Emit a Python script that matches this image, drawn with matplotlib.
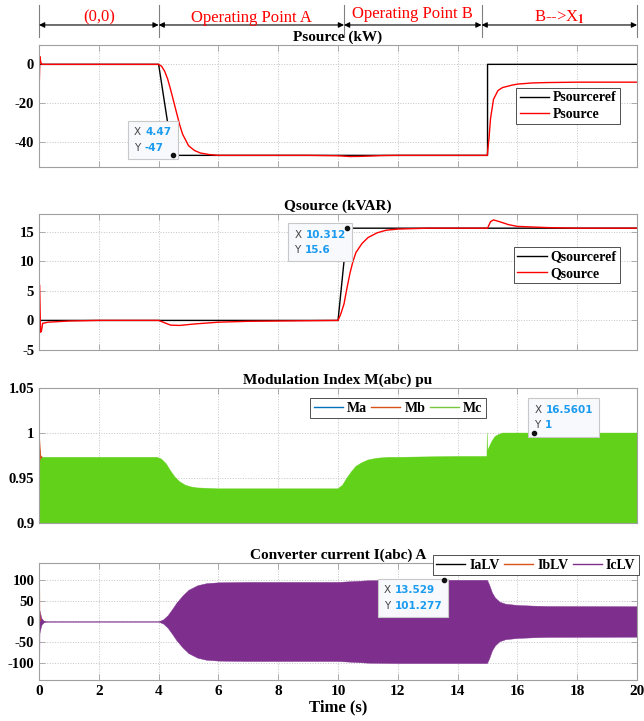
import numpy as np
import matplotlib.pyplot as plt
from matplotlib.lines import Line2D
from matplotlib.offsetbox import TextArea, HPacker, VPacker, AnnotationBbox

plt.rcParams['font.family'] = ['Liberation Serif', 'DejaVu Serif']
plt.rcParams['font.weight'] = 'bold'
plt.rcParams['axes.unicode_minus'] = False
plt.rcParams['mathtext.fontset'] = 'stix'

# --- operating regions (top arrows) ---
region_bounds = [0, 4, 10.2, 14.8, 20]
region_labels = ['(0,0)', 'Operating Point A', 'Operating Point B', 'B-->X$_1$']

# --- Psource (kW) ---
pref_t = [0, 4, 4.47, 15, 15, 20]
pref_v = [0, 0, -47, -47, 0, 0]
p_t = [0, 0.03, 0.06, 0.1, 4.0, 4.1, 4.2, 4.3, 4.4, 4.5, 4.6, 4.7, 4.8, 5.0,
       5.2, 5.4, 5.7, 6.0, 7, 9, 10, 10.4, 10.8, 11.5, 12, 14.99, 15.05, 15.1,
       15.2, 15.35, 15.5, 15.8, 16, 16.5, 17, 18, 20]
p_v = [-15, 4, 1, 0, 0, -1, -3.5, -7.5, -13, -19, -25, -31, -36, -42,
       -44.5, -45.8, -46.6, -47, -47, -47, -47.2, -47.6, -47.5, -47.1, -47, -47, -38, -28,
       -18, -13.5, -12, -10.8, -10.2, -9.6, -9.4, -9.2, -9.2]

# --- Qsource (kVAR) ---
qref_t = [0, 10, 10.312, 20]
qref_v = [0, 0, 15.6, 15.6]
q_t = [0, 0.02, 0.05, 0.08, 0.12, 0.3, 1, 2, 4.0, 4.2, 4.4, 4.7, 5.2, 6, 7,
       10.0, 10.1, 10.2, 10.3, 10.4, 10.5, 10.6, 10.8, 11.0, 11.3, 11.6, 12, 13,
       15.0, 15.1, 15.2, 15.4, 15.7, 16, 17, 18, 20]
q_v = [-3, 6, -2, -1.8, -0.5, -0.3, -0.1, 0, 0, -0.4, -0.8, -0.85, -0.6, -0.3, -0.15,
       0, 1.2, 2.8, 5.5, 8, 10, 11.5, 13, 14, 14.8, 15.25, 15.45, 15.6,
       15.6, 16.7, 17, 16.7, 16.2, 15.9, 15.7, 15.6, 15.6]

# --- Modulation index envelopes (pu) ---
m_t = [0, 0.03, 0.08, 0.15, 1, 2, 3, 3.95, 4.1, 4.25, 4.4, 4.55, 4.7, 4.9, 5.1,
       5.3, 6, 8, 10.0, 10.15, 10.3, 10.45, 10.6, 10.8, 11.0, 11.3, 11.7, 12, 14,
       14.98, 14.99, 15.0, 15.05, 15.15, 15.25, 15.35, 15.5, 16, 18, 20]
mc_env = [1.0, 0.968, 0.972, 0.973, 0.973, 0.973, 0.973, 0.973, 0.971, 0.966, 0.958, 0.951,
          0.946, 0.942, 0.940, 0.939, 0.938, 0.938, 0.938, 0.942, 0.950, 0.957, 0.963, 0.967,
          0.970, 0.972, 0.973, 0.973, 0.974, 0.974, 1.0, 0.98, 0.984, 0.991, 0.996, 0.998,
          1.0, 1.0, 1.0, 1.0]
ma_t = [0, 0.02, 0.05, 0.1]
ma_env = [0.99, 0.98, 0.972, 0.973]
mb_t = [0, 0.02, 0.05, 0.1]
mb_env = [1.0, 0.99, 0.975, 0.973]

# --- Converter current envelopes (A) ---
i_t = [0, 0.03, 0.08, 0.15, 0.25, 4.0, 4.15, 4.3, 4.45, 4.6, 4.8, 5.0, 5.3, 5.6,
       6.0, 7, 10.0, 10.5, 11.0, 12, 14.98, 15.05, 15.15, 15.25, 15.4, 15.6, 16.0,
       16.5, 17, 20]
ic_env = [32, 22, 8, 2, 0.6, 0.6, 5, 15, 30, 46, 63, 77, 88, 93,
          95, 96, 96, 98, 100, 101, 101, 90, 70, 58, 48, 43, 40,
          38.5, 37.5, 37]
ib_t = [0, 0.005, 0.015, 0.04]
ib_v = [0, 145, 20, 0]
ic_spike_t = [0, 0.005, 0.015, 0.04]
ic_spike_v = [0, -145, -20, 0]

# --- data tips ---
tips = [(4.47, -47, '4.47', '-47'), (10.312, 15.6, '10.312', '15.6'),
        (16.5601, 1, '16.5601', '1'), (13.529, 101.277, '13.529', '101.277')]

# ================== FIGURE ==================
fig = plt.figure(figsize=(6.44, 7.21), dpi=100)
rects = [[0.0606, 0.7684, 0.9286, 0.1692],
         [0.0606, 0.5146, 0.9286, 0.1886],
         [0.0606, 0.2746, 0.9286, 0.1872],
         [0.0606, 0.0569, 0.9286, 0.1623]]
axes = [fig.add_axes(r) for r in rects]

leg_kw = dict(fancybox=False, edgecolor='#333333', framealpha=1, fontsize=10,
              handlelength=2.1, handletextpad=0.3, borderpad=0.25, labelspacing=0.25,
              borderaxespad=0)


def style(ax, title):
    ax.set_xlim(0, 20)
    ax.set_xticks(np.arange(0, 21, 2))
    for s in ax.spines.values():
        s.set_color('#a0a0a0')
        s.set_linewidth(0.8)
    ax.tick_params(direction='in', top=True, right=True, color='#a0a0a0',
                   length=4, width=0.6, labelsize=10.5)
    ax.grid(True, linestyle=':', color='#c4c4c4', linewidth=0.7)
    ax.set_axisbelow(True)
    ax.set_title(title, fontsize=11, fontweight='bold', pad=3)


def datatip(ax, x, y, xs, ys, align, offset):
    lab = dict(color='#444444', family='DejaVu Sans', size=7.5, weight='normal')
    val = dict(color='#1a9bf0', family='DejaVu Sans', size=7.5, weight='bold')
    row1 = HPacker(children=[TextArea('X', textprops=lab), TextArea(xs, textprops=val)], sep=3, pad=0)
    row2 = HPacker(children=[TextArea('Y', textprops=lab), TextArea(ys, textprops=val)], sep=3, pad=0)
    box = VPacker(children=[row1, row2], sep=4, pad=0, align='left')
    ab = AnnotationBbox(box, (x, y), xybox=offset, boxcoords='offset points',
                        box_alignment=align, frameon=True, pad=0.45,
                        bboxprops=dict(facecolor='#f7f9fc', edgecolor='#c8c8c8', linewidth=0.8),
                        annotation_clip=False, zorder=10)
    ax.add_artist(ab)
    ax.plot([x], [y], 'o', color='#111111', markersize=3, zorder=11)


# Panel 1 - Psource
ax1 = axes[0]
style(ax1, 'Psource (kW)')
ax1.plot(pref_t, pref_v, color='black', lw=1, label='Psourceref')
ax1.plot(p_t, p_v, color='red', lw=1, label='Psource')
ax1.set_ylim(-53, 10)
ax1.set_yticks([-40, -20, 0])
ax1.set_xticklabels([])
ax1.legend(loc='upper right', bbox_to_anchor=(0.972, 0.648), **leg_kw).get_frame().set_linewidth(0.6)

# region arrows above the first panel
trans = ax1.get_xaxis_transform()
for b in region_bounds:
    ax1.axvline(b, ymin=1.066, ymax=1.33, color='#808080', lw=0.8, clip_on=False)
for k, lab in enumerate(region_labels):
    b0, b1 = region_bounds[k], region_bounds[k + 1]
    ax1.annotate('', xy=(b1, 1.164), xytext=(b0, 1.164), xycoords=trans, textcoords=trans,
                 arrowprops=dict(arrowstyle='<|-|>', color='black', lw=0.8,
                                 mutation_scale=8, shrinkA=0, shrinkB=0),
                 annotation_clip=False)
    ax1.text((b0 + b1) / 2, 1.225 if k != 2 else 1.25, lab, transform=trans, color='red',
             fontsize=12, fontweight='normal', ha='center', va='center')

# Panel 2 - Qsource
ax2 = axes[1]
style(ax2, 'Qsource (kVAR)')
ax2.plot(qref_t, qref_v, color='black', lw=1, label='Qsourceref')
ax2.plot(q_t, q_v, color='red', lw=1, label='Qsource')
ax2.set_ylim(-5, 18)
ax2.set_yticks([-5, 0, 5, 10, 15])
ax2.set_xticklabels([])
ax2.legend(loc='upper right', bbox_to_anchor=(0.972, 0.757), **leg_kw).get_frame().set_linewidth(0.6)

# Panel 3 - modulation index
ax3 = axes[2]
style(ax3, 'Modulation Index M(abc) pu')
ma_env_a = np.array(ma_env)
mb_env_a = np.array(mb_env)
mc_env_a = np.array(mc_env)
ax3.fill_between(ma_t, -ma_env_a, ma_env_a, color='#0072BD', lw=0.8)
ax3.fill_between(mb_t, -mb_env_a, mb_env_a, color='#D95319', lw=0.8)
ax3.fill_between(m_t, -mc_env_a, mc_env_a, color='#62D11A', lw=0.3)
ax3.set_ylim(0.9, 1.05)
ax3.set_yticks([0.9, 0.95, 1.0, 1.05])
ax3.set_yticklabels(['0.9', '0.95', '1', '1.05'])
ax3.set_xticklabels([])
h3 = [Line2D([], [], color='#0072BD', lw=1), Line2D([], [], color='#D95319', lw=1),
      Line2D([], [], color='#77C83A', lw=1)]
ax3.legend(h3, ['Ma', 'Mb', 'Mc'], loc='upper center', bbox_to_anchor=(0.6, 0.926), ncol=3,
           columnspacing=0.3, **leg_kw).get_frame().set_linewidth(0.6)

# Panel 4 - converter current
ax4 = axes[3]
style(ax4, 'Converter current I(abc) A')
ic_env_a = np.array(ic_env)
ax4.plot(ib_t, ib_v, color='#D95319', lw=1)
ax4.fill_between(i_t, -ic_env_a, ic_env_a, color='#7E2F8E', lw=0.3)
ax4.plot(ic_spike_t, ic_spike_v, color='#7E2F8E', lw=1)
ax4.set_ylim(-142, 142)
ax4.set_yticks([-100, -50, 0, 50, 100])
ax4.set_xticklabels([str(v) for v in range(0, 21, 2)])
ax4.tick_params(axis='x', labelsize=11)
ax4.set_xlabel('Time (s)', fontsize=12, fontweight='bold', labelpad=1)
h4 = [Line2D([], [], color='black', lw=1), Line2D([], [], color='#D95319', lw=1),
      Line2D([], [], color='#7E2F8E', lw=1)]
ax4.legend(h4, ['IaLV', 'IbLV', 'IcLV'], loc='lower right', bbox_to_anchor=(1.003, 0.897), ncol=3,
           columnspacing=0.3, **leg_kw).get_frame().set_linewidth(0.6)

# data tips
datatip(ax1, tips[0][0], tips[0][1], tips[0][2], tips[0][3], (1, 0), (-1, 2))
datatip(ax2, tips[1][0], tips[1][1], tips[1][2], tips[1][3], (1, 1), (-1, -1))
datatip(ax3, tips[2][0], tips[2][1], tips[2][2], tips[2][3], (0, 0), (0, 2))
datatip(ax4, tips[3][0], tips[3][1], tips[3][2], tips[3][3], (1, 1), (-1, -4))

fig.savefig('out.png', dpi=100)
